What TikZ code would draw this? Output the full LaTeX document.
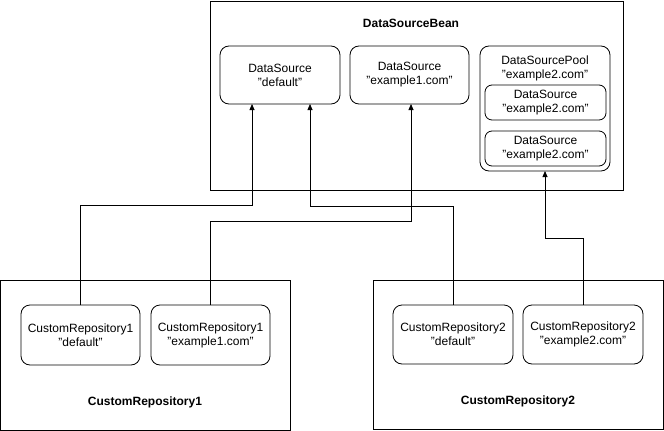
\documentclass[tikz,border=0pt]{standalone}
\usepackage{fontspec}
\setmainfont{Liberation Sans}
\usetikzlibrary{arrows.meta}
\begin{document}
\begin{tikzpicture}[x=1pt,y=-1pt,
  every node/.style={inner sep=0pt,outer sep=0pt,font=\fontsize{12}{14}\selectfont,align=center},
  frame/.style={draw,line width=0.8pt,fill=white},
  rbox/.style={draw,line width=0.8pt,rounded corners=9pt,fill=white},
  ttl/.style={font=\fontsize{12}{14}\selectfont\bfseries},
  arr/.style={draw,line width=0.8pt,-{Triangle[length=6pt,width=5pt]}}]
\useasboundingbox[fill=white] (0,0) rectangle (664,431);
% containers
\node[frame,minimum width=413pt,minimum height=189pt] (bean) at (416.5,95.5) {};
\node[frame,minimum width=289.5pt,minimum height=150pt] (cr1) at (145.25,355) {};
\node[frame,minimum width=290pt,minimum height=149pt] (cr2) at (518,354.5) {};
\node[ttl] (beant) at (411,23) {DataSourceBean};
\node[ttl] (cr1t) at (145,402) {CustomRepository1};
\node[ttl] (cr2t) at (518,401) {CustomRepository2};
% data sources
\node[rbox,minimum width=120pt,minimum height=58pt] (dsd) at (280,75) {DataSource\\"default"};
\node[rbox,minimum width=119pt,minimum height=58pt] (dse) at (409.5,75) {DataSource\\"example1.com"};
\node[rbox,minimum width=130pt,minimum height=125pt] (pool) at (545,108.5) {};
\node (poolt) at (545,68) {DataSourcePool\\"example2.com"};
\node[rbox,rounded corners=7pt,minimum width=121pt,minimum height=35pt] (dsp1) at (545.5,102.5) {DataSource\\"example2.com"};
\node[rbox,rounded corners=7pt,minimum width=121pt,minimum height=35pt] (dsp2) at (545.5,148.5) {DataSource\\"example2.com"};
% repositories
\node[rbox,minimum width=119pt,minimum height=60pt] (cr1d) at (80.5,335) {CustomRepository1\\"default"};
\node[rbox,minimum width=119pt,minimum height=60pt] (cr1e) at (210.5,335) {CustomRepository1\\"example1.com"};
\node[rbox,minimum width=120pt,minimum height=59pt] (cr2d) at (453,334.5) {CustomRepository2\\"default"};
\node[rbox,minimum width=120pt,minimum height=59pt] (cr2e) at (583,334.5) {CustomRepository2\\"example2.com"};
% connectors
\draw[arr] (cr1d.north) -- ++(0,-100) -| ([xshift=-28pt]dsd.south);
\draw[arr] (cr1e.north) -- ++(0,-84) -| ([xshift=1.5pt]dse.south);
\draw[arr] (cr2d.north) -- ++(0,-99) -| ([xshift=30pt]dsd.south);
\draw[arr] (cr2e.north) -- ++(0,-67) -| (pool.south);
\end{tikzpicture}
\end{document}
